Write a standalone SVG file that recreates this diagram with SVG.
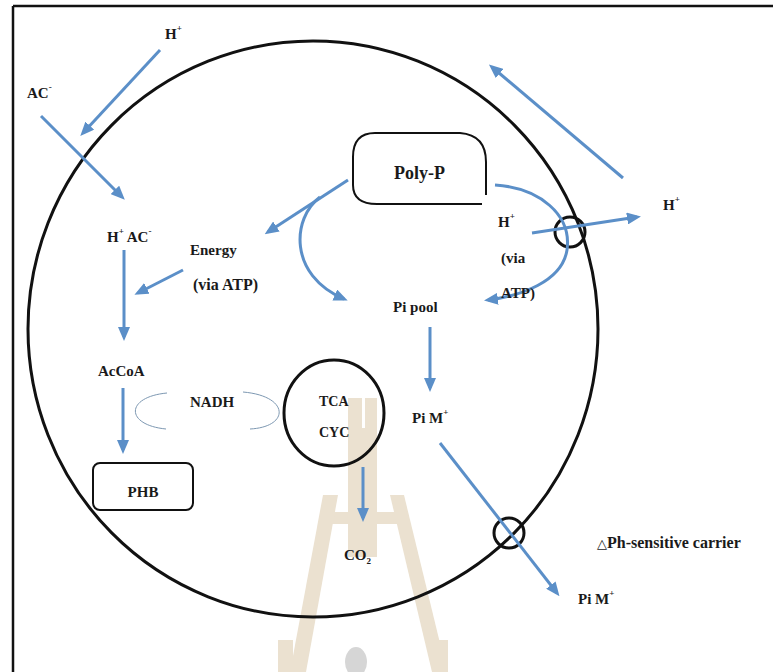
<svg xmlns="http://www.w3.org/2000/svg" width="773" height="672" viewBox="0 0 773 672">
  <defs>
    <marker id="head" viewBox="0 0 14 12" refX="10" refY="6" markerWidth="14" markerHeight="12" markerUnits="userSpaceOnUse" orient="auto">
      <path d="M0,0 L14,6 L0,12 z" fill="#5b8fc8"/>
    </marker>
    <style>
      .lbl { font-family: "Liberation Serif", "Times New Roman", serif; font-weight: bold; font-size: 15px; fill: #1a1a1a; }
      .sup { font-size: 9px; }
      .arrow { fill: none; stroke: #5b8fc8; stroke-width: 3; marker-end: url(#head); }
      .wall { fill: none; stroke: #111; stroke-width: 3; }
      .wm { fill: #ebe1d0; }
    </style>
  </defs>

  <rect width="773" height="672" fill="#fff"/>

  <!-- faint logo mark in the background -->
  <g id="logo">
    <path class="wm" d="M348 398 H377 V557 H348 Z M362 398 V428 H365 V398 Z" fill-rule="evenodd"/>
    <rect class="wm" x="323" y="512" width="81" height="12"/>
    <polygon class="wm" points="323,495 338,495 306,672 290,672"/>
    <polygon class="wm" points="390,495 404,495 447,672 432,672"/>
    <rect class="wm" x="278" y="640" width="15" height="32"/>
    <rect class="wm" x="433" y="640" width="15" height="32"/>
    <ellipse cx="356" cy="662" rx="11" ry="15" fill="#d6d6d6"/>
  </g>

  <!-- frame -->
  <g id="frame">
    <line x1="13" y1="6" x2="773" y2="6" stroke="#111" stroke-width="2.5"/>
    <line x1="13" y1="6" x2="13" y2="672" stroke="#111" stroke-width="2.5"/>
  </g>

  <!-- cell membrane with its two carriers -->
  <g id="cell">
    <ellipse class="wall" cx="313" cy="329" rx="285" ry="288"/>
  </g>
  <g id="carrier-top">
    <circle cx="570" cy="232" r="15" fill="#fff" class="wall"/>
  </g>
  <g id="carrier-bottom">
    <circle cx="509" cy="533" r="15" fill="#fff" class="wall"/>
  </g>

  <g id="polyp">
    <path d="M353 185 L353 157 Q353 133 375 133 L460 133 Q486 135 486 162 L486 195 M482 204 L377 204 Q353 204 353 185" fill="none" stroke="#111" stroke-width="2"/>
    <text class="lbl" x="394" y="179" style="font-size:18px">Poly-P</text>
  </g>

  <g id="phb">
    <rect x="93" y="463" width="100" height="47" rx="7" fill="#fff" stroke="#111" stroke-width="2"/>
    <text class="lbl" x="143" y="497" text-anchor="middle">PHB</text>
  </g>

  <g id="tca">
    <ellipse cx="334" cy="413" rx="50" ry="53" class="wall"/>
    <text class="lbl" x="319" y="406" style="font-size:14px">TCA</text>
    <text class="lbl" x="319" y="437" style="font-size:14px">CYC</text>
  </g>

  <!-- connectors -->
  <g id="connectors">
    <path class="arrow" d="M160 50 L83 133"/>
    <path class="arrow" d="M41 116 L122 197" stroke-width="2.5"/>
    <path class="arrow" d="M124 250 L124 337"/>
    <path class="arrow" d="M183 270 L138 293"/>
    <path class="arrow" d="M348 180 L268 232"/>
    <path class="arrow" d="M320 197 C292 218 288 275 344 299"/>
    <path class="arrow" d="M495 185 C540 188 572 215 567 250 C562 282 520 296 488 300"/>
    <path class="arrow" d="M532 233 L637 217"/>
    <path class="arrow" d="M623 178 L492 67"/>
    <path class="arrow" d="M430 327 L430 388"/>
    <path class="arrow" d="M123 388 L123 450"/>
    <path class="arrow" d="M363 467 L363 518"/>
    <path class="arrow" d="M440 443 L557 593" stroke-width="2.5"/>
    <!-- NADH loop -->
    <path d="M167 393 C125 397 125 425 166 429" fill="none" stroke="#7d98b2" stroke-width="1"/>
    <path d="M243 392 C290 396 290 427 250 429" fill="none" stroke="#7d98b2" stroke-width="1"/>
  </g>

  <!-- labels -->
  <g id="labels">
    <text class="lbl" x="165" y="39">H<tspan class="sup" dy="-8">+</tspan></text>
    <text class="lbl" x="27" y="98">AC<tspan class="sup" dy="-8">-</tspan></text>
    <text class="lbl" x="107" y="242">H<tspan class="sup" dy="-8">+</tspan><tspan dy="8"> AC</tspan><tspan class="sup" dy="-8">-</tspan></text>
    <text class="lbl" x="190" y="255">Energy</text>
    <text class="lbl" x="193" y="290" style="font-size:16px">(via ATP)</text>
    <text class="lbl" x="98" y="376">AcCoA</text>
    <text class="lbl" x="190" y="407">NADH</text>
    <text class="lbl" x="393" y="312">Pi pool</text>
    <text class="lbl" x="412" y="423">Pi M<tspan class="sup" dy="-8">+</tspan></text>
    <text class="lbl" x="344" y="560">CO<tspan class="sup" dy="4">2</tspan></text>
    <text class="lbl" x="498" y="227">H<tspan class="sup" dy="-8">+</tspan></text>
    <text class="lbl" x="501" y="263">(via</text>
    <text class="lbl" x="501" y="298">ATP)</text>
    <text class="lbl" x="663" y="210">H<tspan class="sup" dy="-8">+</tspan></text>
    <text class="lbl" x="578" y="604">Pi M<tspan class="sup" dy="-8">+</tspan></text>
    <text class="lbl" x="597" y="548" style="font-size:16px"><tspan style="font-weight:normal;font-family:'DejaVu Sans',sans-serif;font-size:13px">△</tspan>Ph-sensitive carrier</text>
  </g>
</svg>
